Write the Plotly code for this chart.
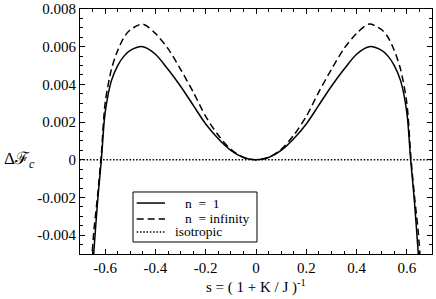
import plotly.graph_objects as go

# ---- data ----
s_vals = [-0.66, -0.645, -0.63, -0.615, -0.6, -0.575, -0.55, -0.525, -0.5, -0.45, -0.4, -0.35, -0.3,
          -0.25, -0.2, -0.15, -0.1, -0.05, 0.0, 0.05, 0.1, 0.15, 0.2, 0.25, 0.3, 0.35, 0.4, 0.45,
          0.5, 0.525, 0.55, 0.575, 0.6, 0.615, 0.63, 0.645, 0.66]
f_n1 = [-0.0078, -0.0049, -0.0022, 0.0, 0.0025, 0.0042, 0.0050, 0.0055, 0.0058, 0.0060, 0.0056, 0.0048, 0.0039,
        0.0029, 0.0019, 0.00112, 0.0005, 0.00012, 0.0, 0.00012, 0.0005, 0.00112, 0.0019, 0.0029, 0.0039, 0.0048, 0.0056, 0.0060,
        0.0058, 0.0055, 0.0050, 0.0042, 0.0025, 0.0, -0.0022, -0.0049, -0.0078]
f_ninf = [-0.0066, -0.0038, -0.0019, 0.0003, 0.0030, 0.0048, 0.0058, 0.0065, 0.0069, 0.0072, 0.0067, 0.0059, 0.0048,
          0.0036, 0.0023, 0.0013, 0.00055, 0.00013, 0.0, 0.00013, 0.00055, 0.0013, 0.0023, 0.0036, 0.0048, 0.0059, 0.0067, 0.0072,
          0.0069, 0.0065, 0.0058, 0.0048, 0.0030, 0.0003, -0.0019, -0.0038, -0.0066]
s_iso = [-0.7, 0.7]
f_iso = [0.0, 0.0]

x_tickvals = [-0.6, -0.4, -0.2, 0.0, 0.2, 0.4, 0.6]
x_ticktext = ["-0.6", "-0.4", "-0.2", "0", "0.2", "0.4", "0.6"]
y_tickvals = [0.008, 0.006, 0.004, 0.002, 0.0, -0.002, -0.004]
y_ticktext = ["0.008", "0.006", "0.004", "0.002", "0", "-0.002", "-0.004"]

legend_labels = ["n\u00a0\u00a0=\u00a0\u00a01", "n\u00a0\u00a0=\u00a0infinity", "isotropic"]

FONT = "Liberation Serif, Times New Roman, DejaVu Serif, serif"
SOLID = dict(color="black", width=1.5)
DASHED = dict(color="black", width=1.5, dash="7px,4px")
DOTTED = dict(color="black", width=1.5, dash="1.5px,1.8px")

fig = go.Figure()
fig.add_trace(go.Scatter(x=s_iso, y=f_iso, mode="lines", line=DOTTED, name=legend_labels[2], showlegend=False))
fig.add_trace(go.Scatter(x=s_vals, y=f_ninf, mode="lines", line=dict(**DASHED, shape="spline", smoothing=0.8),
                         name=legend_labels[1], showlegend=False))
fig.add_trace(go.Scatter(x=s_vals, y=f_n1, mode="lines", line=dict(**SOLID, shape="spline", smoothing=0.8),
                         name=legend_labels[0], showlegend=False))

axis_common = dict(showline=True, linecolor="black", linewidth=1, mirror="ticks", ticks="inside",
                   ticklen=5, tickwidth=1, tickcolor="black", showgrid=False, zeroline=False,
                   automargin=False,
                   tickfont=dict(family=FONT, size=15, color="black"))

fig.update_xaxes(range=[-0.7, 0.7], tickmode="array", tickvals=x_tickvals, ticktext=x_ticktext,
                 minor=dict(dtick=0.05, tick0=0, ticks="inside", ticklen=3, tickcolor="black", showgrid=False),
                 **axis_common)
fig.update_yaxes(range=[-0.005, 0.008], tickmode="array", tickvals=y_tickvals, ticktext=y_ticktext,
                 minor=dict(dtick=0.0005, tick0=0, ticks="inside", ticklen=3, tickcolor="black", showgrid=False),
                 **axis_common)

# x-axis title
fig.add_annotation(text="s = ( 1 + K / J )<sup>-1</sup>", xref="paper", yref="paper", x=0.5, y=-0.133,
                   xanchor="center", yanchor="middle", showarrow=False,
                   font=dict(family=FONT, size=15, color="black"))

# y-axis label (horizontal)
fig.add_annotation(text="Δℱ<sub><i>c</i></sub>", xref="paper", yref="paper", x=-0.222, y=0.384,
                   xanchor="left", yanchor="middle", showarrow=False,
                   font=dict(family=FONT, size=17, color="black"))

# legend box (drawn manually to match the compact reference legend)
L, R, T, B = 0.1506, 0.5028, 0.2531, 0.049
fig.add_shape(type="rect", xref="paper", yref="paper", x0=L, x1=R, y0=B, y1=T,
              line=dict(color="black", width=1), fillcolor="white", layer="above")
rows = [0.208, 0.143, 0.0898]
styles = [SOLID, DASHED, DOTTED]
text_x = [0.2934, 0.2934, 0.265]
for yy, st, lab, tx in zip(rows, styles, legend_labels, text_x):
    fig.add_shape(type="line", xref="paper", yref="paper", x0=0.161, x1=0.2415, y0=yy, y1=yy,
                  line=st, layer="above")
    fig.add_annotation(text=lab, xref="paper", yref="paper", x=tx, y=yy, xanchor="left", yanchor="middle",
                       showarrow=False, font=dict(family=FONT, size=13.5, color="black"))

fig.update_layout(width=436, height=299, margin=dict(l=80, r=4, t=9, b=45),
                  paper_bgcolor="white", plot_bgcolor="white", showlegend=False)

fig.write_html("out.html", config={"displayModeBar": False},
               post_script="document.body.style.margin='0';")
